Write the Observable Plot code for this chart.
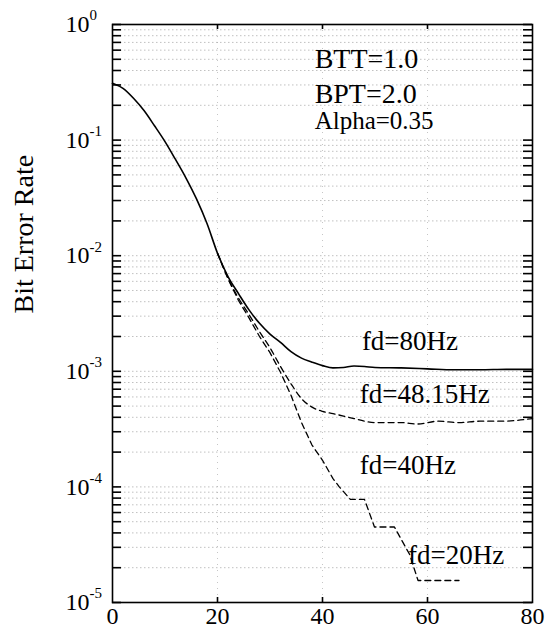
<!DOCTYPE html>
<html>
<head>
<meta charset="utf-8">
<script src="https://cdn.jsdelivr.net/npm/d3@7"></script>
<script src="https://cdn.jsdelivr.net/npm/@observablehq/plot@0.6"></script>
<style>
  html, body { margin: 0; padding: 0; background: white; }
  #chart svg { display: block; }
</style>
</head>
<body>
<div id="chart"></div>
<script>
// ---- data ----
const snr80 = [0, 2, 4, 6, 8, 10, 12, 14, 16, 18, 20, 22, 24, 26, 28, 30, 32, 34, 36, 38, 40, 42, 44, 46, 48, 50, 55, 60, 65, 70, 75, 80];
const ber80 = [0.31, 0.28, 0.23, 0.18, 0.133, 0.097, 0.068, 0.047, 0.031, 0.019, 0.0105, 0.0066, 0.0047, 0.0034, 0.0026, 0.0021, 0.00178, 0.00148, 0.0013, 0.0012, 0.00112, 0.00107, 0.00108, 0.00111, 0.0011, 0.00108, 0.00107, 0.00105, 0.00103, 0.00103, 0.00104, 0.00104];

const snr48 = [20, 22, 24, 26, 28, 30, 32, 34, 36, 38, 40, 42, 44, 46, 48, 50, 52, 55, 58, 62, 66, 70, 74, 80];
const ber48 = [0.0105, 0.0064, 0.0043, 0.0031, 0.0022, 0.0016, 0.0011, 0.00078, 0.00058, 0.00049, 0.00045, 0.00043, 0.00041, 0.00039, 0.00037, 0.00036, 0.00036, 0.00036, 0.00035, 0.00037, 0.00036, 0.00037, 0.00037, 0.00039];

const snr20 = [20, 22, 24, 26, 28, 30, 32, 34, 36, 38, 40, 42, 43.2, 45.3, 48, 49.9, 53.7, 56.6, 58.2, 66];
const ber20 = [0.0105, 0.0063, 0.0041, 0.0029, 0.002, 0.00145, 0.00098, 0.00062, 0.00036, 0.00023, 0.00017, 0.000118, 0.0001, 0.000078, 0.000078, 0.000045, 0.000045, 0.000026, 0.0000155, 0.0000155];

const xTickValues = [0, 20, 40, 60, 80];
const innerXTicks = [20, 40, 60];
const decades = [1, 0.1, 0.01, 0.001, 0.0001, 0.00001];
const exponents = ["0", "-1", "-2", "-3", "-4", "-5"];
const mantissas = [1, 2, 3, 4, 5, 6, 7, 8, 9];

// ---- derived tables ----
const rows80 = snr80.map((x, i) => ({x, y: ber80[i]}));
const rows48 = snr48.map((x, i) => ({x, y: ber48[i]}));
const rows20 = snr20.map((x, i) => ({x, y: ber20[i]}));
const minorTicks = decades.slice(1).flatMap(d => mantissas.map(m => m * d)).concat([1]);
const gridTicks = minorTicks.filter(v => v > 1.5e-5 && v < 0.95);

const W = 551, H = 632, ML = 112, MR = 19, MT = 24, MB = 30;
const frameW = W - ML - MR, frameH = H - MT - MB;
const yTick = 9, xTick = 5;

const serif = "'Liberation Serif', 'Times New Roman', serif";

const chart = Plot.plot({
  width: W,
  height: H,
  marginLeft: ML,
  marginRight: MR,
  marginTop: MT,
  marginBottom: MB,
  x: {domain: [0, 80], axis: null},
  y: {type: "log", domain: [1e-5, 1], axis: null},
  style: {fontFamily: serif, background: "white", color: "black", overflow: "visible"},
  marks: [
    // dotted grid
    Plot.ruleY(gridTicks, {stroke: "#888", strokeWidth: 0.8, strokeDasharray: "1.5,2.5", strokeOpacity: 0.65}),
    Plot.ruleX(innerXTicks, {stroke: "#999", strokeWidth: 0.8, strokeDasharray: "1,5", strokeOpacity: 0.7}),
    // inward ticks on all four sides
    Plot.tickY(minorTicks, {y: d => d, insetRight: frameW - yTick, stroke: "black", strokeWidth: 1.6}),
    Plot.tickY(minorTicks, {y: d => d, insetLeft: frameW - yTick, stroke: "black", strokeWidth: 1.6}),
    Plot.tickX(innerXTicks, {x: d => d, insetTop: frameH - xTick, stroke: "black", strokeWidth: 1.6}),
    Plot.tickX(innerXTicks, {x: d => d, insetBottom: frameH - xTick, stroke: "black", strokeWidth: 1.6}),
    // x tick labels
    Plot.text(xTickValues, {x: d => d, frameAnchor: "bottom", dy: 21, text: d => String(d), fontSize: 24}),
    // y tick labels 10^k
    Plot.text(decades, {y: d => d, frameAnchor: "left", text: () => "10", textAnchor: "end", dx: -23, fontSize: 24}),
    Plot.text(decades, {y: d => d, frameAnchor: "left", text: (d, i) => exponents[i], textAnchor: "start", dx: -23, dy: -9, fontSize: 15}),
    // y axis title
    Plot.text(["Bit Error Rate"], {frameAnchor: "left", dx: -88, rotate: -90, fontSize: 28, text: d => d}),
    // curves
    Plot.line(rows48, {x: "x", y: "y", stroke: "black", strokeWidth: 1.3, strokeDasharray: "6,4", curve: "monotone-x"}),
    Plot.line(rows20, {x: "x", y: "y", stroke: "black", strokeWidth: 1.3, strokeDasharray: "6,4"}),
    Plot.line(rows80, {x: "x", y: "y", stroke: "black", strokeWidth: 1.6, curve: "monotone-x"}),
    // annotations
    Plot.text(["BTT=1.0"], {x: 38.5, y: 0.5, text: d => d, textAnchor: "start", fontSize: 28}),
    Plot.text(["BPT=2.0"], {x: 38.5, y: 0.252, text: d => d, textAnchor: "start", fontSize: 28}),
    Plot.text(["Alpha=0.35"], {x: 38.5, y: 0.145, text: d => d, textAnchor: "start", fontSize: 25}),
    Plot.text(["fd=80Hz"], {x: 47.5, y: 0.00181, text: d => d, textAnchor: "start", fontSize: 27}),
    Plot.text(["fd=48.15Hz"], {x: 47.1, y: 0.00063, text: d => d, textAnchor: "start", fontSize: 27}),
    Plot.text(["fd=40Hz"], {x: 47.1, y: 0.000153, text: d => d, textAnchor: "start", fontSize: 27}),
    Plot.text(["fd=20Hz"], {x: 56.3, y: 0.0000256, text: d => d, textAnchor: "start", fontSize: 27}),
    // frame
    Plot.frame({stroke: "black", strokeWidth: 1.6})
  ]
});

document.getElementById("chart").append(chart);
</script>
</body>
</html>
